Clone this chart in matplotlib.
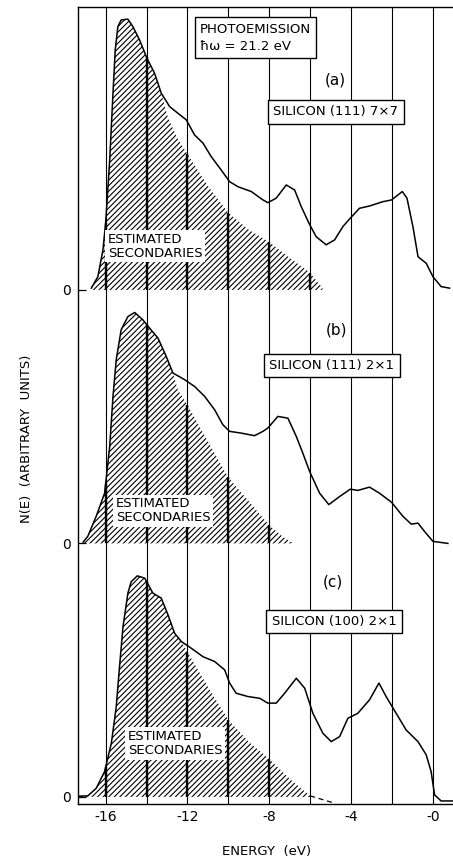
import matplotlib
matplotlib.use("Agg")
import matplotlib.pyplot as plt
import numpy as np

plt.rcParams['font.family'] = ['DejaVu Sans']
plt.rcParams['hatch.linewidth'] = 0.8

# ---------------- data (energy in eV, N(E) in arbitrary units) ----------------
E_a = [-16.70, -16.38, -16.13, -16.00, -15.80, -15.64, -15.53, -15.40, -15.24, -14.91,
       -14.67, -14.34, -13.98, -13.61, -13.28, -12.87, -12.47, -12.06, -11.65, -11.24,
       -10.84, -10.35, -9.94, -9.53, -8.88, -8.31, -8.07, -7.66, -7.17, -6.76,
       -6.44, -6.06, -5.71, -5.22, -4.81, -4.40, -4.04, -3.59, -3.10, -2.45,
       -2.02, -1.50, -1.27, -0.98, -0.73, -0.33, 0.00, 0.40, 0.81]
N_a = [0.7, 5.2, 15.8, 26.3, 51.3, 77.6, 94.7, 103.9, 106.5, 106.8,
       103.9, 98.6, 91.4, 85.5, 77.6, 72.3, 69.7, 67.1, 61.1, 57.9,
       52.6, 47.3, 42.7, 40.7, 38.8, 35.5, 34.4, 36.2, 41.4, 39.4,
       32.9, 26.3, 21.0, 17.8, 19.7, 25.0, 28.3, 32.2, 33.1, 34.8,
       35.5, 38.8, 36.2, 25.0, 13.1, 10.5, 5.2, 1.3, 0.7]
Esec_a = [-16.70, -16.38, -16.13, -16.00, -15.80, -15.64, -15.53, -15.40, -15.24, -14.91,
          -14.67, -14.34, -13.98, -13.61, -13.28, -12.95, -12.50, -12.00, -11.00, -10.00,
          -9.00, -8.00, -7.00, -6.05, -5.40]
Nsec_a = [0.7, 5.2, 15.8, 26.3, 51.3, 77.6, 94.7, 103.9, 106.5, 106.8,
          103.9, 98.6, 91.4, 85.5, 77.6, 67.9, 60.0, 53.6, 41.0, 30.4,
          23.7, 18.9, 12.6, 7.1, 0.8]

E_b = [-17.10, -16.87, -16.46, -16.05, -15.80, -15.64, -15.48, -15.24, -14.91, -14.58,
       -14.18, -13.85, -13.44, -13.04, -12.71, -12.14, -11.65, -11.16, -10.67, -10.27,
       -9.94, -9.37, -8.72, -8.31, -8.07, -7.58, -7.09, -6.68, -6.36, -6.03,
       -5.54, -5.09, -4.56, -4.04, -3.67, -3.10, -2.61, -2.02, -1.47, -1.06,
       -0.73, -0.41, 0.00, 0.73]
N_b = [0.5, 2.8, 10.7, 19.8, 38.3, 58.0, 72.5, 84.3, 89.5, 91.1,
       88.2, 84.9, 81.0, 73.8, 67.2, 64.6, 61.9, 58.0, 52.7, 46.8,
       44.2, 43.5, 42.5, 44.2, 45.5, 50.1, 49.4, 42.2, 35.6, 28.4,
       19.8, 15.3, 18.5, 21.4, 20.9, 22.2, 19.8, 16.2, 10.7, 7.6,
       8.0, 4.7, 0.8, 0.0]
Esec_b = [-17.10, -16.87, -16.46, -16.05, -15.80, -15.64, -15.48, -15.24, -14.91, -14.58,
          -14.18, -13.85, -13.44, -13.04, -12.71, -12.47, -12.00, -11.00, -10.00, -9.00,
          -8.00, -7.30, -6.80]
Nsec_b = [0.5, 2.8, 10.7, 19.8, 38.3, 58.0, 72.5, 84.3, 89.5, 91.1,
          88.2, 84.9, 81.0, 73.8, 67.2, 60.6, 54.7, 40.2, 26.0, 16.6,
          7.1, 2.4, 0.0]

E_c = [-17.35, -16.87, -16.46, -16.05, -15.72, -15.48, -15.32, -15.15, -14.91, -14.75,
       -14.45, -14.09, -13.69, -13.28, -12.95, -12.63, -12.30, -11.82, -11.24, -10.67,
       -10.18, -9.94, -9.62, -9.05, -8.47, -8.07, -7.66, -7.25, -6.68, -6.27,
       -5.87, -5.38, -4.97, -4.56, -4.16, -3.67, -3.10, -2.64, -2.29, -1.80,
       -1.31, -0.73, -0.33, -0.09, 0.08, 0.40, 0.98]
N_c = [0.3, 0.4, 3.4, 10.0, 21.2, 35.6, 51.4, 67.2, 80.4, 84.9,
       87.2, 86.3, 80.4, 78.4, 71.8, 64.6, 61.3, 58.7, 55.3, 53.4,
       50.1, 44.9, 40.9, 39.6, 38.9, 37.0, 37.0, 40.9, 46.8, 42.9,
       33.0, 25.1, 21.8, 23.8, 31.0, 33.0, 38.3, 44.9, 39.6, 33.0,
       26.4, 21.8, 16.6, 10.0, 0.8, -1.6, -1.6]
Esec_c = [-17.35, -16.87, -16.46, -16.05, -15.72, -15.48, -15.32, -15.15, -14.91, -14.75,
          -14.45, -14.09, -13.69, -13.28, -12.95, -12.63, -12.30, -12.00, -11.00, -10.00,
          -9.00, -8.00, -7.00, -6.00]
Nsec_c = [0.3, 0.4, 3.4, 10.0, 21.2, 35.6, 51.4, 67.2, 80.4, 84.9,
          87.2, 86.3, 80.4, 78.4, 71.8, 64.6, 61.3, 57.2, 43.4, 30.4,
          21.7, 15.0, 7.1, 0.4]
Etail_c = [-6.00, -4.80]
Ntail_c = [0.4, -2.5]

panel_tags = ['(a)', '(b)', '(c)']
samples = ['SILICON (111) 7×7', 'SILICON (111) 2×1', 'SILICON (100) 2×1']
grid_energies = [-16, -14, -12, -10, -8, -6, -4, -2, 0]
xtick_vals = [-16, -12, -8, -4, 0]
xtick_labels = ['-16', '-12', '-8', '-4', '-0']

# ---------------- figure ----------------
W, H = 453, 861
fig = plt.figure(figsize=(W / 100, H / 100), dpi=100)
ax = fig.add_axes([78 / W, 1 - 804 / H, 1 - 78 / W, (804 - 7) / H])
ax.set_xlim(-17.35, 0.98)
ax.set_ylim(-2.8, 311.6)

offsets = [200, 100, 0]
totals = [(E_a, N_a), (E_b, N_b), (E_c, N_c)]
secs = [(Esec_a, Nsec_a), (Esec_b, Nsec_b), (Esec_c, Nsec_c)]

for off, (e, n), (es, ns) in zip(offsets, totals, secs):
    es = np.array(es); ns = np.array(ns)
    ax.fill_between(es, off, off + ns, facecolor='white', edgecolor='black',
                    hatch='//////', linewidth=0, zorder=1)
    ax.plot(e, np.array(n) + off, color='black', lw=1.1, zorder=4)
    # gridlines appear heavier where they cross the hatched area
    for g in grid_energies:
        if es[0] < g < es[-1]:
            top = np.interp(g, es, ns)
            ax.vlines(g, off, off + top, color='black', lw=1.7, zorder=3)

ax.plot(Etail_c, np.array(Ntail_c), color='black', lw=0.9, ls=(0, (4, 3)), zorder=4)

for g in grid_energies:
    ax.axvline(g, color='black', lw=0.8, zorder=3)

# labels
tfs = 9.5
ax.text(-11.39, 299.4, 'PHOTOEMISSION\nħω = 21.2 eV', ha='left', va='center',
        fontsize=tfs, linespacing=1.45, zorder=6,
        bbox=dict(boxstyle='square,pad=0.4', fc='white', ec='black', lw=1.0))

tag_pos = [(-4.79, 282.8), (-4.70, 184.2), (-4.89, 84.8)]
box_pos = [(-4.75, 270.2), (-4.94, 170.2), (-4.84, 69.2)]
est_pos = [(-15.88, 217.2), (-15.49, 112.8), (-14.91, 21.1)]
for tag, s, tp, bp, ep in zip(panel_tags, samples, tag_pos, box_pos, est_pos):
    ax.text(tp[0], tp[1], tag, ha='center', va='center', fontsize=tfs + 1.5, zorder=6)
    ax.text(bp[0], bp[1], s, ha='center', va='center', fontsize=tfs, zorder=6,
            bbox=dict(boxstyle='square,pad=0.4', fc='white', ec='black', lw=1.0))
    ax.text(ep[0], ep[1], 'ESTIMATED\nSECONDARIES', ha='left', va='center',
            fontsize=tfs, linespacing=1.1, zorder=6,
            bbox=dict(boxstyle='square,pad=0.2', fc='white', ec='none'))

ax.set_xticks(xtick_vals)
ax.set_xticklabels(xtick_labels)
ax.set_yticks(offsets)
ax.set_yticklabels(['0', '0', '0'])
ax.tick_params(axis='x', length=0, pad=4, labelsize=10)
ax.tick_params(axis='y', direction='in', length=6, width=0.9, pad=5, labelsize=10)
ax.spines['right'].set_visible(False)
for sp in ['left', 'top', 'bottom']:
    ax.spines[sp].set_linewidth(1.0)

fig.text(267 / W, 1 - 852 / H, 'ENERGY  (eV)', ha='center', va='center', fontsize=9.5)
fig.text(27 / W, 1 - 439 / H, 'N(E)  (ARBITRARY  UNITS)', ha='center', va='center',
         rotation=90, fontsize=9.5)

fig.savefig('out.png', dpi=100)
